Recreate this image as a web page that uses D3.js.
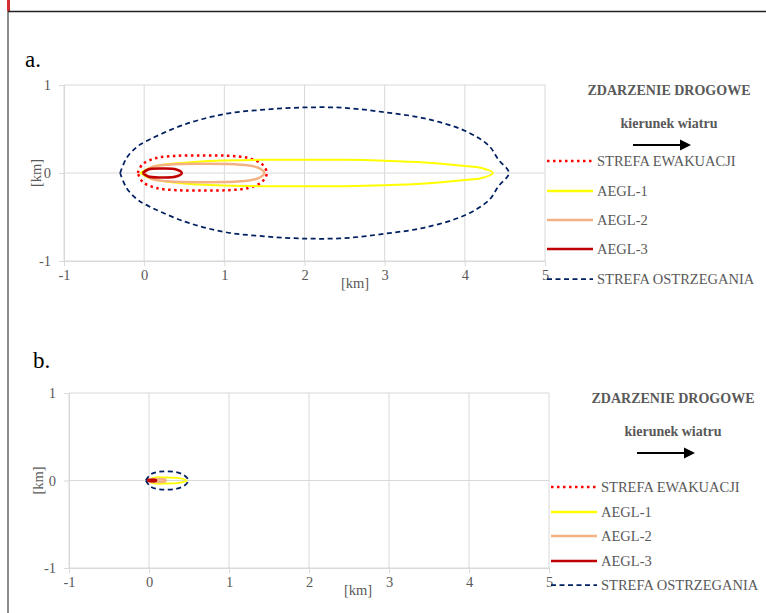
<!DOCTYPE html>
<html>
<head>
<meta charset="utf-8">
<script src="https://cdn.jsdelivr.net/npm/d3@7"></script>
<style>
  body { margin: 0; background: #fff; }
  svg { display: block; font-family: "Liberation Serif", "Times New Roman", serif; }
</style>
</head>
<body>
<div id="wrapper"></div>
<script>
// tick values (both panels)
const xTicks = [-1, 0, 1, 2, 3, 4, 5]
const yTicks = [-1, 0, 1]

const seriesNames = ["STREFA EWAKUACJI", "AEGL-1", "AEGL-2", "AEGL-3", "STREFA OSTRZEGANIA"]

// panel a - contours [x km, y km]
const ostrzeganiaA = [[-0.3,0],[-0.22,0.17],[-0.1,0.29],[0,0.35],[0.5,0.55],[1,0.67],[1.5,0.72],[2,0.745],[2.5,0.74],[3,0.69],[3.5,0.62],[4,0.48],[4.3,0.31],[4.42,0.15],[4.55,0],
  [4.42,-0.15],[4.3,-0.31],[4,-0.48],[3.5,-0.62],[3,-0.69],[2.5,-0.74],[2,-0.745],[1.5,-0.72],[1,-0.67],[0.5,-0.55],[0,-0.35],[-0.1,-0.29],[-0.22,-0.17],[-0.3,0]]
const ewakuacjaA = [[-0.08,0],[-0.02,0.1],[0.15,0.17],[0.4,0.195],[0.73,0.2],[1.05,0.195],[1.3,0.17],[1.47,0.1],[1.53,0],
  [1.47,-0.1],[1.3,-0.17],[1.05,-0.195],[0.73,-0.2],[0.4,-0.195],[0.15,-0.17],[-0.02,-0.1],[-0.08,0]]
const aegl1A = [[-0.05,0],[0.1,0.07],[0.4,0.11],[0.9,0.14],[1.5,0.15],[2,0.15],[2.5,0.15],[3,0.14],[3.5,0.12],[4,0.08],[4.2,0.06],[4.35,0],
  [4.2,-0.06],[4,-0.08],[3.5,-0.12],[3,-0.14],[2.5,-0.15],[2,-0.15],[1.5,-0.15],[0.9,-0.14],[0.4,-0.11],[0.1,-0.07],[-0.05,0]]
const aegl2A = [[0,0],[0.08,0.06],[0.3,0.095],[0.75,0.105],[1.2,0.095],[1.42,0.06],[1.5,0],
  [1.42,-0.06],[1.2,-0.095],[0.75,-0.105],[0.3,-0.095],[0.08,-0.06],[0,0]]
const aegl3A = [[-0.02,0],[0.05,0.04],[0.22,0.05],[0.4,0.04],[0.47,0],
  [0.4,-0.04],[0.22,-0.05],[0.05,-0.04],[-0.02,0]]

// panel b
const ostrzeganiaB = [[-0.04,0],[0.02,0.07],[0.12,0.1],[0.22,0.105],[0.34,0.095],[0.44,0.06],[0.49,0],
  [0.44,-0.06],[0.34,-0.095],[0.22,-0.105],[0.12,-0.1],[0.02,-0.07],[-0.04,0]]
const ewakuacjaB = [[-0.02,0],[0.02,0.015],[0.06,0.015],[0.09,0],[0.06,-0.015],[0.02,-0.015],[-0.02,0]]
const aegl1B = [[-0.01,0],[0.05,0.03],[0.2,0.035],[0.35,0.03],[0.47,0],
  [0.35,-0.03],[0.2,-0.035],[0.05,-0.03],[-0.01,0]]
const aegl2B = [[0,0],[0.04,0.015],[0.12,0.018],[0.2,0.01],[0.21,0],[0.2,-0.01],[0.12,-0.018],[0.04,-0.015],[0,0]]
const aegl3B = [[-0.02,0],[0.02,0.008],[0.07,0.008],[0.09,0],[0.07,-0.008],[0.02,-0.008],[-0.02,0]]

const styles = {
  "STREFA EWAKUACJI": { color: "#ff0000", width: 2.5, dash: "2.5,3.5" },
  "AEGL-1": { color: "#ffff00", width: 2, dash: null },
  "AEGL-2": { color: "#f4b183", width: 2.5, dash: null },
  "AEGL-3": { color: "#c00000", width: 2.5, dash: null },
  "STREFA OSTRZEGANIA": { color: "#002060", width: 1.75, dash: "5,3.5" }
}

const svg = d3.select("#wrapper").append("svg")
  .attr("width", 766).attr("height", 613)

// page frame
svg.append("line").attr("x1", 8).attr("x2", 8).attr("y1", 0).attr("y2", 613)
  .attr("stroke", "#666").attr("stroke-width", 1.5)
svg.append("rect").attr("x", 7).attr("y", 0).attr("width", 3).attr("height", 11).attr("fill", "#d32f2f")
svg.append("line").attr("x1", 8).attr("x2", 766).attr("y1", 11.5).attr("y2", 11.5)
  .attr("stroke", "#222").attr("stroke-width", 1.5)

function drawPanel(opt) {
  const g = svg.append("g")
  const x = d3.scaleLinear().domain([-1, 5]).range([opt.left, opt.right])
  const y = d3.scaleLinear().domain([-1, 1]).range([opt.bottom, opt.top])

  // grid
  g.append("g").selectAll("line").data(xTicks).join("line")
    .attr("x1", d => x(d)).attr("x2", d => x(d))
    .attr("y1", opt.top).attr("y2", opt.bottom)
    .attr("stroke", "#d9d9d9").attr("stroke-width", 1)
  g.append("g").selectAll("line").data(yTicks).join("line")
    .attr("x1", opt.left).attr("x2", opt.right)
    .attr("y1", d => y(d)).attr("y2", d => y(d))
    .attr("stroke", "#d9d9d9").attr("stroke-width", 1)

  const xAxis = g.append("g")
    .attr("transform", `translate(0,${opt.bottom})`)
    .call(d3.axisBottom(x).tickValues(xTicks).tickSize(5).tickPadding(4).tickFormat(d3.format("d")))
  const yAxis = g.append("g")
    .attr("transform", `translate(${opt.left},0)`)
    .call(d3.axisLeft(y).tickValues(yTicks).tickSize(5).tickPadding(8).tickFormat(d3.format("d")))
  ;[xAxis, yAxis].forEach(a => {
    a.select(".domain").attr("stroke", "#d9d9d9")
    a.selectAll(".tick line").attr("stroke", "#d9d9d9")
    a.selectAll(".tick text").attr("fill", "#595959")
      .style("font-family", "Liberation Serif").style("font-size", "14.5px")
  })
  xAxis.selectAll(".tick text").text(d => d < 0 ? "-" + Math.abs(d) : d)
  yAxis.selectAll(".tick text").text(d => d < 0 ? "-" + Math.abs(d) : d)

  // axis titles
  g.append("text").attr("x", opt.xLabelX).attr("y", opt.xLabelY)
    .attr("text-anchor", "middle").attr("fill", "#595959").attr("font-size", "14.5px").text("[km]")
  g.append("text")
    .attr("transform", `translate(${opt.yLabelX},${y(0)})rotate(-90)`)
    .attr("text-anchor", "middle").attr("fill", "#595959").attr("font-size", "14.5px").text("[km]")

  // panel letter
  g.append("text").attr("x", opt.letterX).attr("y", opt.letterY)
    .attr("fill", "#000").attr("font-size", "23px").text(opt.letter)

  // contours
  const line = d3.line().x(d => x(d[0])).y(d => y(d[1])).curve(d3.curveCatmullRom.alpha(0.5))
  const order = ["STREFA OSTRZEGANIA", "STREFA EWAKUACJI", "AEGL-1", "AEGL-2", "AEGL-3"]
  order.forEach(name => {
    const s = styles[name]
    g.append("path").datum(opt.data[name])
      .attr("d", line)
      .attr("fill", "none")
      .attr("stroke", s.color)
      .attr("stroke-width", s.width)
      .attr("stroke-dasharray", s.dash)
      .attr("stroke-linejoin", "round")
  })

  // legend header
  const lx = opt.legendX
  g.append("text").attr("x", opt.headerX).attr("y", opt.headerY)
    .attr("text-anchor", "middle").attr("fill", "#595959").attr("font-weight", "bold")
    .attr("font-size", "14px").text("ZDARZENIE DROGOWE")
  g.append("text").attr("x", opt.headerX).attr("y", opt.headerY + 33)
    .attr("text-anchor", "middle").attr("fill", "#595959").attr("font-weight", "bold")
    .attr("font-size", "14px").text("kierunek wiatru")
  g.append("line").attr("x1", opt.arrowX).attr("x2", opt.arrowX + 48)
    .attr("y1", opt.headerY + 50).attr("y2", opt.headerY + 50)
    .attr("stroke", "#000").attr("stroke-width", 2)
  g.append("path")
    .attr("d", `M${opt.arrowX + 58},${opt.headerY + 50} l-11,-5.5 l0,11 z`)
    .attr("fill", "#000")

  const leg = g.append("g").selectAll("g").data(seriesNames).join("g")
    .attr("transform", (d, i) => `translate(${lx},${opt.legendY[i]})`)
  leg.append("line").attr("x1", 0).attr("x2", 46).attr("y1", 0).attr("y2", 0)
    .attr("stroke", d => styles[d].color)
    .attr("stroke-width", d => d == "STREFA OSTRZEGANIA" ? 1.75 : 2.5)
    .attr("stroke-dasharray", d => styles[d].dash)
  leg.append("text").attr("x", 50).attr("y", 5)
    .attr("fill", "#595959").attr("font-size", "14.5px").text(d => d)
}

drawPanel({
  left: 64, right: 545, top: 85, bottom: 261,
  xLabelX: 355, xLabelY: 288, yLabelX: 41,
  letter: "a.", letterX: 25, letterY: 67,
  headerX: 669, headerY: 95, arrowX: 633,
  legendX: 547, legendY: [161, 191, 220, 249, 279],
  data: {
    "STREFA OSTRZEGANIA": ostrzeganiaA, "STREFA EWAKUACJI": ewakuacjaA,
    "AEGL-1": aegl1A, "AEGL-2": aegl2A, "AEGL-3": aegl3A
  }
})

drawPanel({
  left: 69, right: 549, top: 393, bottom: 568,
  xLabelX: 358, xLabelY: 595, yLabelX: 43,
  letter: "b.", letterX: 33, letterY: 368,
  headerX: 673, headerY: 403, arrowX: 637,
  legendX: 551, legendY: [487, 512, 536, 561, 585],
  data: {
    "STREFA OSTRZEGANIA": ostrzeganiaB, "STREFA EWAKUACJI": ewakuacjaB,
    "AEGL-1": aegl1B, "AEGL-2": aegl2B, "AEGL-3": aegl3B
  }
})
</script>
</body>
</html>
